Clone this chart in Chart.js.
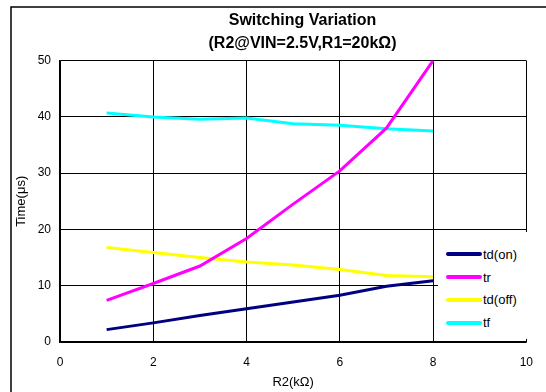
<!DOCTYPE html>
<html>
<head>
<meta charset="utf-8">
<script src="https://cdn.jsdelivr.net/npm/chart.js@4.4.0/dist/chart.umd.min.js"></script>
<style>
    html, body { margin: 0; padding: 0; background: #fff; overflow: hidden; }
    #wrap { position: relative; width: 546px; height: 392px; }
    #legend {
        position: absolute; left: 438px; top: 232px; width: 89px; height: 107px;
        background: #fff; padding-top: 11px; box-sizing: border-box;
        font-family: "Liberation Sans", Arial, sans-serif; font-size: 13px; color: #000;
    }
    .legend-item { display: flex; align-items: center; height: 22.8px; }
    .color-box { display: inline-block; width: 36px; height: 4px; margin-left: 8px; margin-right: 1px; border-radius: 2px; }
</style>
</head>
<body>
<div id="wrap">
    <canvas id="switchChart" width="546" height="392"></canvas>
    <div id="legend"></div>
</div>
<script>
// R2 (kOhm)
const r2Values = [1, 2, 3, 4, 5, 6, 7, 8];

// switching times (us)
const tdOn = [2.2, 3.4, 4.7, 5.9, 7.1, 8.3, 9.9, 10.9];
const tr = [7.4, 10.4, 13.5, 18.4, 24.5, 30.4, 38.0, 50.0];
const tdOff = [16.8, 15.9, 15.0, 14.2, 13.7, 12.9, 11.8, 11.6];
const tf = [40.7, 40.0, 39.6, 39.8, 38.8, 38.5, 37.9, 37.5];

const seriesNames = ['td(on)', 'tr', 'td(off)', 'tf'];
const seriesColors = ['#000080', '#ff00ff', '#ffff00', '#00ffff'];
const seriesData = [tdOn, tr, tdOff, tf];

const yTicks = [0, 10, 20, 30, 40, 50];
const xTicks = [0, 2, 4, 6, 8, 10];

const FONT = '"Liberation Sans", Arial, sans-serif';

// outer frame + white background
const framePlugin = {
    id: 'frame',
    beforeDraw(chart) {
        const ctx = chart.ctx;
        ctx.save();
        ctx.fillStyle = '#fff';
        ctx.fillRect(0, 0, chart.width, chart.height);
        ctx.strokeStyle = '#000';
        ctx.lineWidth = 1.5;
        ctx.strokeRect(11, 7, 600, 420);
        ctx.restore();
    }
};

// title sits a bit right of the plot centre in the original
const titleShift = {
    id: 'titleShift',
    afterLayout(chart) {
        const t = chart.titleBlock;
        if (!t) return;
        const dx = 302.5 - (t.left + t.right) / 2;
        t.left += dx;
        t.right += dx;
    }
};

const datasets = seriesNames.map((name, i) => ({
    label: name,
    data: r2Values.map((x, j) => ({ x: x, y: seriesData[i][j] })),
    borderColor: seriesColors[i],
    backgroundColor: seriesColors[i],
    borderWidth: 3,
    pointRadius: 0,
    tension: 0,
    fill: false
}));

const chart = new Chart('switchChart', {
    type: 'line',
    data: { datasets: datasets },
    plugins: [framePlugin, titleShift],
    options: {
        responsive: false,
        animation: false,
        layout: { padding: { left: 0, right: 17, top: 0, bottom: 0 } },
        scales: {
            x: {
                type: 'linear',
                min: 0,
                max: 10,
                afterBuildTicks: (scale) => { scale.ticks = xTicks.map(v => ({ value: v })); },
                afterFit: (scale) => { scale.height = 50; },
                grid: { color: '#000', lineWidth: 1, drawTicks: false },
                border: { color: '#000', width: 1.5 },
                ticks: { color: '#000', padding: 13, font: { family: FONT, size: 12 } },
                title: {
                    display: true,
                    text: 'R2(kΩ)',
                    color: '#000',
                    padding: { top: 0, bottom: 1.5 },
                    font: { family: FONT, size: 13 }
                }
            },
            y: {
                min: 0,
                max: 50,
                afterBuildTicks: (scale) => { scale.ticks = yTicks.map(v => ({ value: v })); },
                afterFit: (scale) => { scale.width = 60; },
                grid: { color: '#000', lineWidth: 1, drawTicks: false },
                border: { color: '#000', width: 1.5 },
                ticks: { color: '#000', padding: 9, font: { family: FONT, size: 12 } },
                title: {
                    display: true,
                    text: 'Time(μs)',
                    color: '#000',
                    padding: { top: 14, bottom: 0 },
                    font: { family: FONT, size: 13 }
                }
            }
        },
        plugins: {
            legend: { display: false },
            tooltip: { enabled: false },
            title: {
                display: true,
                text: ['Switching Variation', '(R2@VIN=2.5V,R1=20kΩ)'],
                color: '#000',
                padding: { top: 9.4, bottom: 6.1 },
                font: { family: FONT, size: 16, weight: 'bold', lineHeight: 1.41 }
            }
        }
    }
});

// legend
const legendDiv = document.getElementById('legend');
datasets.forEach(ds => {
    const legendItem = document.createElement('div');
    legendItem.className = 'legend-item';
    legendItem.innerHTML = `<span class="color-box" style="background-color: ${ds.borderColor};"></span><span class="legend-text">${ds.label}</span>`;
    legendDiv.appendChild(legendItem);
});
</script>
</body>
</html>
